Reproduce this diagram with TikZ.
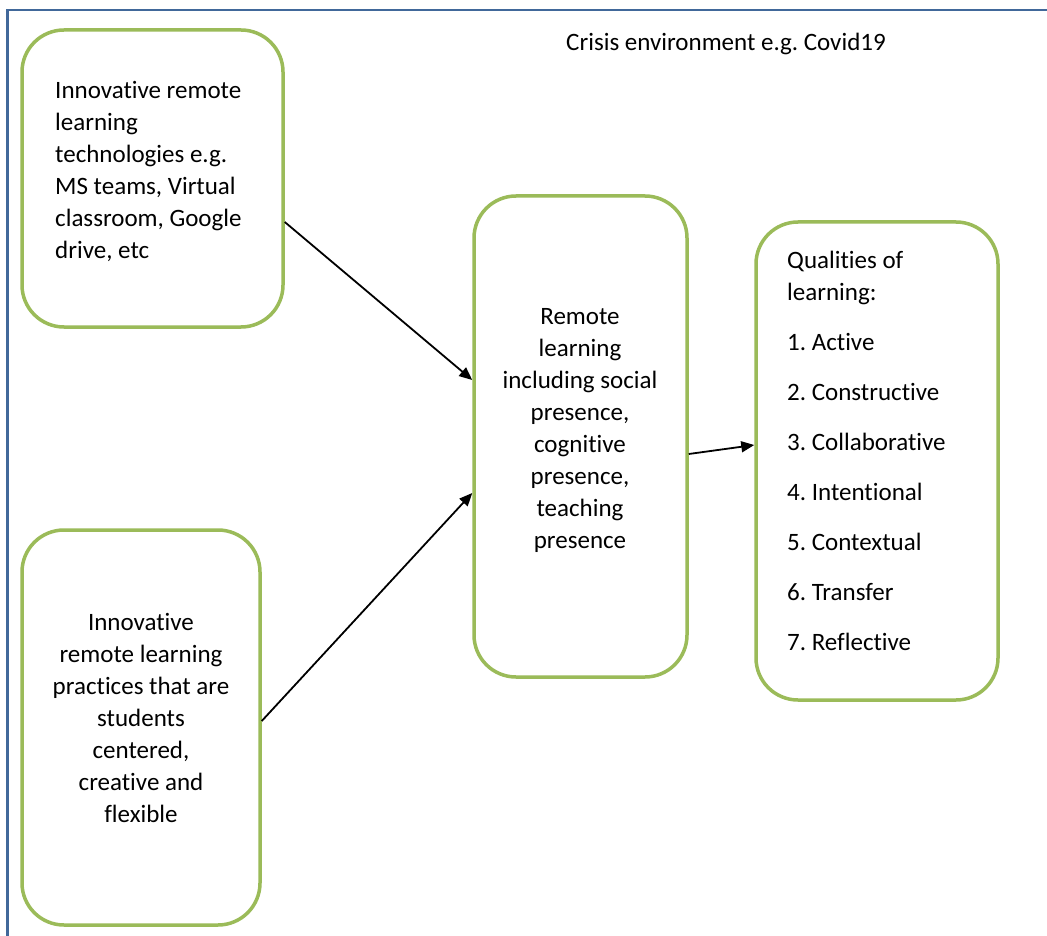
\documentclass[tikz,border=0pt]{standalone}
\usepackage{fontspec}
\setmainfont{Carlito}[Ligatures=CommonOff]
\frenchspacing
\usetikzlibrary{arrows.meta}
\definecolor{boxgreen}{HTML}{9BBB59}
\definecolor{frameblue}{HTML}{41689A}
\tikzset{
  box/.style={draw=boxgreen, line width=3.5pt, rounded corners=42pt, inner sep=0pt, fill=white},
  txt/.style={inner sep=0pt, font=\fontsize{25}{32}\selectfont},
  conn/.style={line width=1.8pt, -{Triangle[length=13pt,width=11pt]}},
}
\begin{document}
\begin{tikzpicture}[x=1pt,y=-1pt]
\useasboundingbox (0,0) rectangle (1047,936);
\fill[white] (0,0) rectangle (1047,936);
% outer frame
\coordinate (fTR) at (1047,10);
\coordinate (fTL) at (7.5,10);
\coordinate (fBL) at (7.5,936);
\draw[frameblue, line width=2.6pt] (fTR) -- (fTL) -- (fBL);
% title
\node[txt, anchor=north] (title) at (726,27.6) {\strut Crisis environment e.g. Covid19};
% boxes
\node[box, minimum width=261pt, minimum height=297pt] (b1) at (152.5,178.5) {};
\node[box, minimum width=238pt, minimum height=395pt] (b2) at (141,727.5) {};
\node[box, minimum width=213pt, minimum height=481pt] (b3) at (580.5,436.5) {};
\node[box, minimum width=242pt, minimum height=478pt] (b4) at (877,461) {};
% texts
\node[txt, anchor=north west, align=left] (t1) at (55,75.6) {\strut Innovative remote\\learning\\technologies e.g.\\MS teams, Virtual\\classroom, Google\\drive, etc};
\node[txt, anchor=north, align=center] (t2) at (141,607.6) {\strut Innovative\\remote learning\\practices that are\\students\\centered,\\creative and\\flexible};
\node[txt, anchor=north, align=center] (t3) at (580,301.6) {\strut Remote\\learning\\including social\\presence,\\cognitive\\presence,\\teaching\\presence};
\node[txt, anchor=north west, align=left] (t4) at (787,245.6) {\strut Qualities of\\learning:\\[18pt]1. Active\\[18pt]2. Constructive\\[18pt]3. Collaborative\\[18pt]4. Intentional\\[18pt]5. Contextual\\[18pt]6. Transfer\\[18pt]7. Reflective};
% connectors
\draw[conn] ([yshift=-43.5pt]b1.east) -- ([yshift=56.5pt]b3.west);
\draw[conn] ([yshift=6.5pt]b2.east) -- ([yshift=-56.5pt]b3.west);
\draw[conn] ([yshift=-17.5pt]b3.east) -- ([yshift=16pt]b4.west);
\end{tikzpicture}
\end{document}
